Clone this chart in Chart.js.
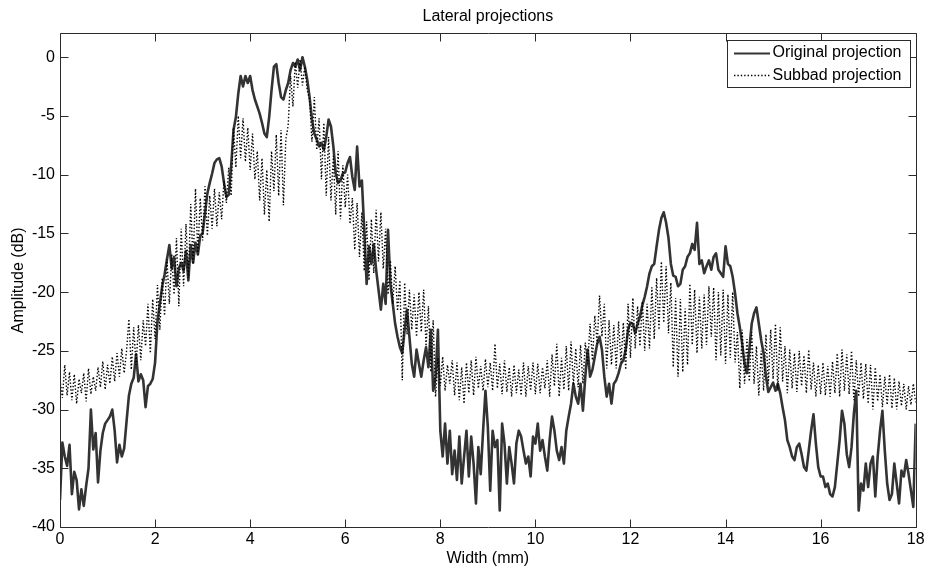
<!DOCTYPE html>
<html>
<head>
<meta charset="utf-8">
<title>Lateral projections</title>
<script src="https://cdn.jsdelivr.net/npm/chart.js@4.4.1/dist/chart.umd.min.js"></script>
<style>
  html, body { margin: 0; padding: 0; background: #fff; }
  canvas { display: block; }
</style>
</head>
<body>
<canvas id="chart" width="928" height="570"></canvas>
<script>
// Lateral projection profiles in dB, one sample every 0.05 mm from 0 to 18 mm
const sampleStepMm = 0.05;

const originalProjection = [
  -37.7,-32.8,-34.0,-34.8,-33.0,-37.2,-35.3,-36.0,-38.5,-36.8,
  -38.2,-36.5,-35.0,-30.0,-33.4,-32.0,-36.2,-33.5,-32.0,-31.2,
  -30.9,-30.6,-30.0,-31.8,-34.5,-33.0,-34.0,-33.3,-31.0,-28.8,
  -27.8,-27.3,-25.3,-27.6,-27.0,-27.5,-29.8,-28.0,-27.8,-27.4,
  -26.0,-22.5,-21.0,-19.5,-18.5,-17.2,-16.0,-18.0,-17.0,-19.5,
  -18.0,-17.5,-18.2,-16.5,-19.0,-16.0,-17.5,-15.8,-16.8,-15.2,
  -15.0,-13.3,-11.6,-10.7,-9.9,-9.0,-8.7,-8.6,-9.3,-10.7,
  -11.9,-11.7,-9.3,-6.2,-5.1,-3.1,-1.6,-2.5,-1.6,-2.2,
  -1.6,-2.8,-3.6,-4.2,-4.8,-5.6,-6.5,-6.8,-5.1,-2.8,
  -0.8,-0.6,-2.2,-3.4,-3.6,-2.8,-2.2,-1.1,-0.5,-0.8,
  -0.2,-1.1,0.0,-0.8,-1.9,-3.4,-5.3,-6.5,-7.0,-7.6,
  -7.3,-7.9,-6.8,-5.3,-5.9,-7.6,-9.9,-10.7,-10.5,-9.9,
  -9.8,-9.0,-8.5,-10.2,-11.3,-7.6,-11.0,-10.5,-14.7,-19.3,
  -16.1,-17.6,-15.9,-18.1,-19.8,-21.5,-19.3,-21.0,-14.7,-19.3,
  -21.0,-22.7,-23.8,-24.7,-25.2,-23.2,-21.5,-23.8,-26.1,-27.2,
  -24.9,-26.1,-27.2,-25.8,-24.7,-26.4,-23.2,-28.4,-27.2,-23.2,
  -31.8,-34.0,-31.2,-34.6,-31.8,-35.5,-33.5,-36.0,-32.3,-36.3,
  -34.0,-31.8,-35.7,-32.3,-34.6,-38.0,-33.2,-35.5,-31.8,-28.4,
  -31.5,-36.9,-31.8,-33.2,-32.6,-38.6,-31.2,-32.9,-36.3,-33.2,
  -34.6,-36.3,-32.9,-31.8,-32.3,-33.5,-34.6,-34.0,-35.7,-32.3,
  -32.9,-31.2,-33.5,-32.6,-34.0,-35.2,-32.6,-30.6,-31.8,-33.5,
  -34.3,-33.2,-34.6,-31.8,-30.6,-29.5,-27.8,-28.9,-29.5,-27.8,
  -30.1,-27.2,-24.9,-27.2,-26.6,-25.5,-24.4,-23.8,-24.9,-27.2,
  -28.9,-27.8,-29.5,-27.8,-27.5,-26.9,-26.1,-25.8,-24.9,-23.2,
  -22.6,-22.7,-23.5,-22.7,-22.1,-21.1,-20.4,-19.5,-18.4,-17.8,
  -17.6,-16.1,-14.7,-13.7,-13.2,-14.1,-15.4,-17.6,-18.6,-18.7,
  -19.5,-19.3,-18.1,-17.8,-17.0,-16.7,-15.9,-16.4,-14.1,-17.6,
  -17.3,-18.4,-17.8,-17.3,-18.1,-17.0,-16.7,-18.1,-18.4,-18.7,
  -16.1,-17.6,-17.8,-18.7,-20.1,-21.8,-23.0,-24.4,-26.1,-26.9,
  -24.9,-22.7,-21.8,-21.3,-22.7,-24.1,-25.2,-27.2,-28.5,-28.1,
  -27.7,-28.4,-27.8,-28.6,-29.8,-30.9,-32.6,-33.2,-34.0,-34.3,
  -33.2,-32.9,-33.8,-34.9,-35.2,-33.5,-31.8,-30.4,-32.9,-34.9,
  -35.7,-35.7,-36.6,-36.3,-37.2,-37.4,-36.6,-34.6,-32.6,-30.1,
  -31.2,-33.8,-34.9,-33.2,-30.3,-28.4,-38.6,-36.3,-36.9,-34.6,
  -36.6,-34.6,-34.0,-37.4,-34.0,-31.8,-30.1,-33.5,-36.3,-37.7,
  -37.2,-34.6,-36.3,-38.0,-35.2,-35.7,-34.3,-35.5,-36.9,-38.3,
  -31.2
];

const subbandProjection = [
  -27.5,-29.0,-26.2,-28.8,-26.8,-29.2,-27.0,-29.5,-27.4,-28.6,
  -26.9,-29.3,-26.5,-28.7,-27.2,-28.4,-26.4,-28.1,-25.9,-28.3,
  -26.2,-27.8,-25.5,-27.6,-25.2,-27.2,-24.8,-26.9,-25.0,-22.3,
  -26.6,-23.0,-26.2,-22.8,-25.8,-22.4,-24.6,-21.0,-25.2,-20.6,
  -24.0,-19.4,-23.2,-18.8,-22.0,-17.2,-21.0,-16.8,-20.2,-15.4,
  -21.2,-14.6,-19.5,-14.2,-18.8,-12.5,-17.6,-11.2,-16.8,-12.0,
  -15.6,-11.0,-15.2,-11.8,-14.6,-11.2,-14.4,-11.5,-13.8,-10.5,
  -12.4,-9.4,-11.8,-6.0,-9.4,-5.0,-8.6,-5.2,-8.9,-6.0,
  -9.6,-6.5,-10.4,-8.0,-12.2,-8.6,-13.4,-9.6,-14.0,-8.0,
  -11.4,-6.6,-11.8,-6.2,-12.6,-7.0,-5.8,-1.6,-4.2,-0.4,
  -2.6,-0.2,-2.4,-0.8,-2.8,-3.6,-7.2,-3.4,-7.9,-5.2,
  -10.4,-5.6,-11.8,-6.8,-12.2,-8.4,-13.4,-8.0,-13.8,-9.2,
  -12.8,-10.0,-14.2,-12.0,-16.4,-12.4,-17.0,-13.2,-18.2,-14.0,
  -19.0,-13.8,-18.4,-13.0,-17.4,-13.2,-18.0,-14.6,-20.2,-17.3,
  -21.0,-17.8,-21.6,-19.0,-27.5,-19.2,-23.6,-19.8,-23.2,-20.2,
  -23.8,-20.0,-23.4,-19.8,-24.6,-21.2,-26.8,-22.4,-28.9,-25.6,
  -28.0,-25.5,-28.4,-26.2,-27.8,-25.8,-28.8,-26.0,-29.2,-26.4,
  -29.5,-26.0,-28.6,-25.8,-28.8,-25.5,-28.2,-26.3,-28.4,-25.7,
  -28.1,-26.0,-28.4,-24.4,-28.2,-26.1,-28.7,-25.8,-28.5,-26.4,
  -28.9,-26.2,-28.6,-26.6,-28.8,-26.0,-28.9,-26.3,-28.4,-26.0,
  -28.7,-26.1,-28.6,-26.4,-28.2,-25.8,-28.9,-25.3,-28.0,-24.4,
  -28.9,-25.6,-28.3,-24.6,-28.4,-24.2,-27.9,-24.8,-28.1,-24.5,
  -27.8,-24.3,-26.1,-22.7,-25.8,-22.0,-24.4,-20.3,-23.8,-21.0,
  -26.5,-22.4,-26.2,-22.8,-26.5,-22.5,-26.0,-22.6,-26.6,-21.0,
  -25.6,-20.5,-24.8,-21.2,-24.6,-20.8,-25.0,-21.0,-24.8,-19.6,
  -24.0,-18.8,-23.2,-17.4,-22.6,-17.8,-23.5,-19.2,-26.4,-20.5,
  -27.2,-20.6,-26.8,-21.4,-26.2,-19.3,-24.5,-19.8,-25.2,-20.4,
  -24.8,-20.2,-24.5,-19.5,-23.8,-19.6,-25.8,-20.0,-25.4,-19.8,
  -26.1,-20.2,-25.6,-20.0,-26.0,-23.4,-28.2,-23.2,-27.8,-24.0,
  -27.6,-23.4,-27.8,-24.6,-28.8,-25.0,-28.4,-23.6,-27.8,-23.2,
  -27.4,-22.7,-28.4,-23.0,-27.6,-24.6,-28.6,-24.9,-28.2,-25.2,
  -28.5,-25.0,-28.0,-25.4,-28.6,-24.9,-28.3,-26.0,-28.9,-26.2,
  -28.7,-26.0,-28.8,-26.3,-28.9,-25.9,-28.6,-25.2,-28.9,-24.9,
  -28.4,-25.3,-28.7,-25.0,-29.2,-25.8,-28.9,-26.0,-29.1,-26.1,
  -29.5,-26.2,-30.0,-26.4,-29.3,-27.0,-29.8,-27.2,-29.6,-27.0,
  -29.9,-27.3,-30.0,-27.6,-29.7,-27.8,-30.0,-28.0,-29.6,-27.8,
  -29.4
];

const xTicks = [0, 2, 4, 6, 8, 10, 12, 14, 16, 18];
const yTicks = [-40, -35, -30, -25, -20, -15, -10, -5, 0];
const xRange = [0, 18];
const yRange = [-40, 2];

const FONT_FAMILY = "'Liberation Sans', Arial, Helvetica, sans-serif";
const INK = '#000000';
const FRAME = '#2b2b2b';

Chart.defaults.font.family = FONT_FAMILY;
Chart.defaults.font.size = 16;
Chart.defaults.color = INK;

const toPoints = values => values.map((v, i) => ({ x: +(i * sampleStepMm).toFixed(2), y: v }));

// Box round the axes with inward tick marks on all four sides
const axesFrame = {
  id: 'axesFrame',
  afterDatasetsDraw(chart) {
    const { ctx, chartArea: a, scales: { x, y } } = chart;
    const L = Math.round(a.left) + 0.5;
    const R = Math.round(a.right) + 0.5;
    const T = Math.floor(a.top) + 0.5;
    const B = Math.round(a.bottom) + 0.5;
    const tick = 8;
    ctx.save();
    ctx.strokeStyle = FRAME;
    ctx.lineWidth = 1;
    ctx.setLineDash([]);
    ctx.beginPath();
    ctx.rect(L, T, R - L, B - T);
    xTicks.forEach(v => {
      const px = Math.round(x.getPixelForValue(v)) + 0.5;
      ctx.moveTo(px, B); ctx.lineTo(px, B - tick);
      ctx.moveTo(px, T); ctx.lineTo(px, T + tick);
    });
    yTicks.forEach(v => {
      const py = Math.round(y.getPixelForValue(v)) + 0.5;
      ctx.moveTo(L, py); ctx.lineTo(L + tick, py);
      ctx.moveTo(R, py); ctx.lineTo(R - tick, py);
    });
    ctx.stroke();
    ctx.restore();
  }
};

// Boxed legend in the upper right corner of the axes
const boxedLegend = {
  id: 'boxedLegend',
  afterDraw(chart) {
    const { ctx, chartArea: a } = chart;
    const w = 183, h = 47;
    const bx = Math.round(a.right) - 5.5 - w;
    const by = Math.floor(a.top) + 7.5;
    ctx.save();
    ctx.fillStyle = '#ffffff';
    ctx.fillRect(bx, by, w, h);
    ctx.strokeStyle = FRAME;
    ctx.lineWidth = 1;
    ctx.setLineDash([]);
    ctx.strokeRect(bx, by, w, h);
    const rows = [by + 12, by + 34.2];
    chart.data.datasets.forEach((ds, i) => {
      const yy = rows[i];
      ctx.beginPath();
      ctx.strokeStyle = ds.borderColor;
      ctx.lineWidth = Math.min(ds.borderWidth, 2);
      ctx.setLineDash(ds.borderDash || []);
      ctx.moveTo(bx + 6.5, Math.round(yy) + 0.5);
      ctx.lineTo(bx + 42.5, Math.round(yy) + 0.5);
      ctx.stroke();
      ctx.setLineDash([]);
      ctx.fillStyle = INK;
      ctx.font = '16px ' + FONT_FAMILY;
      ctx.textAlign = 'left';
      ctx.textBaseline = 'middle';
      ctx.fillText(ds.label, bx + 45, yy + 0.5);
    });
    ctx.restore();
  }
};

new Chart(document.getElementById('chart'), {
  type: 'line',
  data: {
    datasets: [
      {
        label: 'Original projection',
        data: toPoints(originalProjection),
        borderColor: '#333333',
        borderWidth: 2.6,
        borderJoinStyle: 'round',
        pointRadius: 0,
        tension: 0,
        order: 1
      },
      {
        label: 'Subbad projection',
        data: toPoints(subbandProjection),
        borderColor: '#000000',
        borderWidth: 1.4,
        borderDash: [1.4, 2],
        borderJoinStyle: 'bevel',
        pointRadius: 0,
        tension: 0,
        order: 0
      }
    ]
  },
  options: {
    responsive: false,
    animation: false,
    events: [],
    layout: { padding: { left: 0, right: 11, top: 0, bottom: 0 } },
    plugins: {
      legend: { display: false },
      tooltip: { enabled: false },
      title: {
        display: true,
        text: 'Lateral projections',
        fullSize: false,
        color: INK,
        font: { size: 16, weight: 'normal', family: FONT_FAMILY },
        padding: { top: 7.2, bottom: 7.3 }
      }
    },
    scales: {
      x: {
        type: 'linear',
        min: xRange[0],
        max: xRange[1],
        grid: { display: false, drawTicks: false },
        border: { display: false },
        afterBuildTicks: s => { s.ticks = xTicks.map(v => ({ value: v })); },
        afterFit: s => { s.height = 43; },
        ticks: { padding: 3.4, autoSkip: false, maxRotation: 0, color: INK, font: { size: 16 } },
        title: {
          display: true,
          text: 'Width (mm)',
          color: INK,
          font: { size: 16 },
          padding: { top: 0, bottom: 1.5 }
        }
      },
      y: {
        type: 'linear',
        min: yRange[0],
        max: yRange[1],
        grid: { display: false, drawTicks: false },
        border: { display: false },
        afterBuildTicks: s => { s.ticks = yTicks.map(v => ({ value: v })); },
        afterFit: s => { s.width = 60; },
        ticks: { padding: 5, color: INK, font: { size: 16 } },
        title: {
          display: true,
          text: 'Amplitude (dB)',
          color: INK,
          font: { size: 16 },
          padding: { top: 8.5, bottom: 0 }
        }
      }
    }
  },
  plugins: [axesFrame, boxedLegend]
});
</script>
</body>
</html>
